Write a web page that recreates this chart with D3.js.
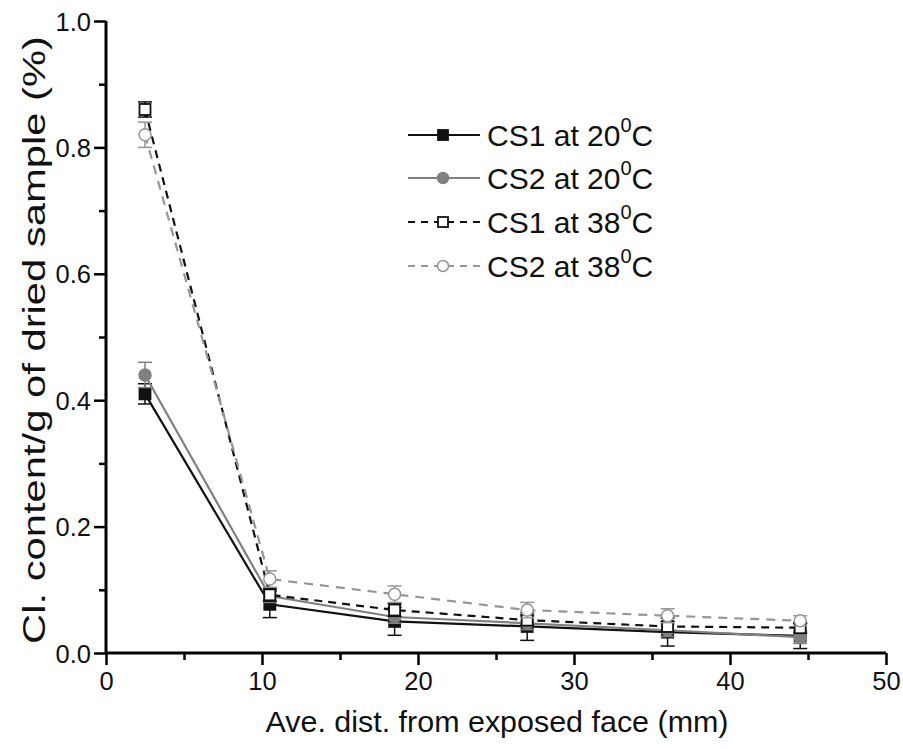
<!DOCTYPE html>
<html>
<head>
<meta charset="utf-8">
<script src="https://cdn.jsdelivr.net/npm/d3@7"></script>
<style>
  body { margin: 0; background: #fff; }
  svg { font-family: "Liberation Sans", Arial, sans-serif; }
</style>
</head>
<body>
<div id="chart"></div>
<script>
// distances (mm)
const dist = [2.5, 10.5, 18.5, 27, 36, 44.5];

// Cl content (%) per series
const cs1_20 = [0.41, 0.077, 0.050, 0.042, 0.033, 0.027];
const cs2_20 = [0.44, 0.090, 0.057, 0.047, 0.036, 0.025];
const cs1_38 = [0.86, 0.092, 0.068, 0.052, 0.042, 0.040];
const cs2_38 = [0.82, 0.117, 0.093, 0.068, 0.059, 0.051];

// error bar half-heights
const err_cs1_20 = [0.016, 0.021, 0.022, 0.022, 0.022, 0.020];
const err_cs2_20 = [0.020, 0.010, 0.010, 0.010, 0.010, 0.010];
const err_cs1_38 = [0.012, 0.010, 0.010, 0.008, 0.008, 0.008];
const err_cs2_38 = [0.020, 0.013, 0.013, 0.012, 0.011, 0.008];

const seriesNames = ["CS1 at 20", "CS2 at 20", "CS1 at 38", "CS2 at 38"];

const xTicks = [0, 10, 20, 30, 40, 50];
const yTicks = [0.0, 0.2, 0.4, 0.6, 0.8, 1.0];

const W = 903, H = 749;
const svg = d3.select("#chart").append("svg")
    .attr("width", W)
    .attr("height", H);

const x = d3.scaleLinear().domain([0, 50]).range([106, 886]);
const y = d3.scaleLinear().domain([0, 1]).range([653, 21]);

const series = [
    { name: seriesNames[0], vals: cs1_20, err: err_cs1_20, color: "#111", dash: null, shape: "square", fill: "#111" },
    { name: seriesNames[1], vals: cs2_20, err: err_cs2_20, color: "#808080", dash: null, shape: "circle", fill: "#808080" },
    { name: seriesNames[2], vals: cs1_38, err: err_cs1_38, color: "#111", dash: "8,6", shape: "square", fill: "#fff" },
    { name: seriesNames[3], vals: cs2_38, err: err_cs2_38, color: "#969696", dash: "9,7", shape: "circle", fill: "#fff" }
];

// Axes
const xAxis = svg.append("g")
    .attr("transform", `translate(0,${y(0)})`)
    .call(d3.axisBottom(x).tickValues(xTicks).tickSize(12).tickFormat(d3.format("d")));
svg.append("g")
    .attr("transform", `translate(0,${y(0)})`)
    .call(d3.axisBottom(x).tickValues([5, 15, 25, 35, 45]).tickSize(7).tickFormat(""))
    .select(".domain").remove();

const yAxis = svg.append("g")
    .attr("transform", `translate(${x(0)},0)`)
    .call(d3.axisLeft(y).tickValues(yTicks).tickSize(12).tickFormat(d3.format(".1f")));
svg.append("g")
    .attr("transform", `translate(${x(0)},0)`)
    .call(d3.axisLeft(y).tickValues([0.1, 0.3, 0.5, 0.7, 0.9]).tickSize(7).tickFormat(""))
    .select(".domain").remove();

svg.selectAll(".tick line").attr("stroke", "#000").attr("stroke-width", 2.5);
svg.selectAll(".tick text").attr("fill", "#111").style("font-size", "25.5px")
    .style("font-family", "'Liberation Sans', Arial, sans-serif");
xAxis.selectAll(".tick text").attr("y", 19);
yAxis.selectAll(".tick text").attr("x", -15).attr("dy", "0.36em");
svg.selectAll("path.domain").remove();
// axis lines without end ticks
svg.append("line").attr("x1", x(0)).attr("x2", x(50)).attr("y1", y(0)).attr("y2", y(0))
    .attr("stroke", "#000").attr("stroke-width", 3);
svg.append("line").attr("x1", x(0)).attr("x2", x(0)).attr("y1", y(0)).attr("y2", y(1))
    .attr("stroke", "#000").attr("stroke-width", 3);

// Axis titles
svg.append("text")
    .attr("x", 497)
    .attr("y", 732)
    .attr("text-anchor", "middle")
    .style("font-size", "30px")
    .attr("textLength", 463)
    .attr("lengthAdjust", "spacingAndGlyphs")
    .attr("fill", "#111")
    .text("Ave. dist. from exposed face (mm)");

svg.append("text")
    .attr("transform", `translate(45,340) rotate(-90)`)
    .attr("text-anchor", "middle")
    .style("font-size", "31px")
    .attr("textLength", 608)
    .attr("lengthAdjust", "spacingAndGlyphs")
    .attr("fill", "#111")
    .text("Cl. content/g of dried sample (%)");

// Lines, error bars, markers
const line = d3.line().x((d, i) => x(dist[i])).y(d => y(d));

function drawMarker(g, shape, cx, cy, size, color, fill) {
    if (shape === "square") {
        g.append("rect")
            .attr("x", cx - size / 2).attr("y", cy - size / 2)
            .attr("width", size).attr("height", size)
            .attr("fill", fill).attr("stroke", color).attr("stroke-width", 1.8);
    } else {
        g.append("circle")
            .attr("cx", cx).attr("cy", cy).attr("r", size / 2 + 0.5)
            .attr("fill", fill).attr("stroke", color).attr("stroke-width", 1.5);
    }
}

series.forEach(s => {
    const g = svg.append("g");
    g.append("path")
        .datum(s.vals)
        .attr("d", line)
        .attr("fill", "none")
        .attr("stroke", s.color)
        .attr("stroke-width", 2.2)
        .attr("stroke-dasharray", s.dash);

    s.vals.forEach((v, i) => {
        const cx = x(dist[i]);
        const top = y(v + s.err[i]), bot = y(v - s.err[i]);
        g.append("line").attr("x1", cx).attr("x2", cx).attr("y1", top).attr("y2", bot)
            .attr("stroke", s.color).attr("stroke-width", 1.5);
        [top, bot].forEach(yy => {
            g.append("line").attr("x1", cx - 7).attr("x2", cx + 7).attr("y1", yy).attr("y2", yy)
                .attr("stroke", s.color).attr("stroke-width", 1.5);
        });
        drawMarker(g, s.shape, cx, y(v), 11, s.color, s.fill);
    });
});

// Legend
const legRows = [135, 178, 222, 266];
series.forEach((s, i) => {
    const g = svg.append("g").attr("transform", `translate(0,${legRows[i]})`);
    g.append("line").attr("x1", 408).attr("x2", 480).attr("y1", 0).attr("y2", 0)
        .attr("stroke", s.color).attr("stroke-width", 2.2)
        .attr("stroke-dasharray", s.dash ? "7,6" : null);
    drawMarker(g, s.shape, 443, 0, 10, s.color, s.fill);
    const t = g.append("text")
        .attr("x", 487).attr("y", 11)
        .style("font-size", "30px")
        .attr("fill", "#111");
    t.append("tspan").text(s.name);
    t.append("tspan").attr("dy", -14).style("font-size", "20px").text("0");
    t.append("tspan").attr("dy", 14).text("C");
});
</script>
</body>
</html>
